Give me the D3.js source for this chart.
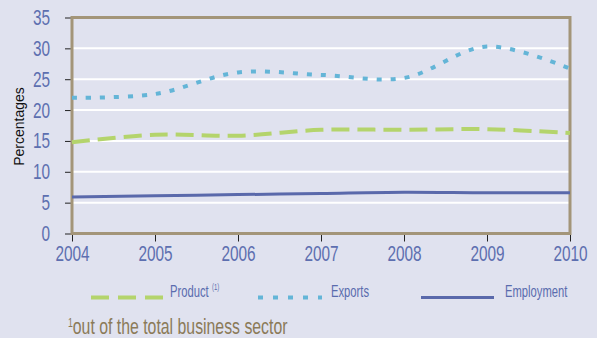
<!DOCTYPE html>
<html>
<head>
<meta charset="utf-8">
<script src="https://cdn.jsdelivr.net/npm/d3@7"></script>
<style>
  body { margin: 0; background: #e0e2ef; }
  svg { display: block; }
  text { font-family: "Liberation Sans", Arial, sans-serif; }
  .tick text { fill: #5d6fb0; }
</style>
</head>
<body>
<svg width="597" height="338"></svg>
<script>
// data
var years = [2004, 2005, 2006, 2007, 2008, 2009, 2010];
var product = [14.8, 16.0, 15.85, 16.8, 16.8, 16.9, 16.3];
var exportsShare = [22.0, 22.6, 26.1, 25.7, 25.2, 30.3, 26.7];
var employment = [5.9, 6.1, 6.3, 6.5, 6.7, 6.6, 6.6];
var yTicks = [0, 5, 10, 15, 20, 25, 30, 35];

// the original uses a condensed face; squeeze regular text horizontally
var squeeze = 0.7;

var svg = d3.select("svg"),
    margin = {top: 17.5, right: 27, bottom: 104.5, left: 72},
    width = svg.attr("width") - margin.left - margin.right,
    height = svg.attr("height") - margin.top - margin.bottom;

var g = svg.append("g").attr("transform", "translate(" + margin.left + "," + margin.top + ")");

var x = d3.scaleLinear().domain([2004, 2010]).range([0, width]),
    y = d3.scaleLinear().domain([0, 35]).range([height, 0]);

// white gridlines
g.selectAll(".grid")
  .data(yTicks.filter(function(d) { return d > 0 && d < 35; }))
  .enter().append("line")
    .attr("x1", 0).attr("x2", width)
    .attr("y1", function(d) { return y(d); })
    .attr("y2", function(d) { return y(d); })
    .attr("stroke", "#fff")
    .attr("stroke-width", 2);

// y axis
var yAxis = g.append("g")
  .call(d3.axisLeft(y).tickValues(yTicks).tickSize(7).tickPadding(15));
yAxis.select(".domain").remove();
yAxis.selectAll(".tick line").attr("stroke", "#222");
yAxis.selectAll(".tick text")
  .style("font-size", "22px")
  .attr("x", -22 / squeeze)
  .attr("transform", "scale(" + squeeze + ",1)");

// x axis
var xAxis = g.append("g")
  .attr("transform", "translate(0," + (height + 1) + ")")
  .call(d3.axisBottom(x).tickValues(years).tickFormat(d3.format("d")).tickSize(7).tickPadding(4));
xAxis.select(".domain").remove();
xAxis.selectAll(".tick line").attr("stroke", "#222");
xAxis.selectAll(".tick text")
  .style("font-size", "22px")
  .attr("transform", "scale(" + squeeze + ",1)");

// frame
g.append("rect")
  .attr("width", width).attr("height", height)
  .attr("fill", "none")
  .attr("stroke", "#a39579")
  .attr("stroke-width", 3);

// y label
svg.append("text")
  .attr("transform", "translate(24," + (margin.top + height / 2 + 1) + ") rotate(-90)")
  .attr("text-anchor", "middle")
  .style("font-size", "14px")
  .attr("fill", "#111")
  .text("Percentages");

var line = d3.line()
  .x(function(d, i) { return x(years[i]); })
  .y(function(d) { return y(d); })
  .curve(d3.curveCatmullRom);

var series = [
  {name: "Product", values: product, color: "#b4d46c", width: 4, dash: "18,8"},
  {name: "Exports", values: exportsShare, color: "#64b5d7", width: 4, dash: "5,9"},
  {name: "Employment", values: employment, color: "#5a69ab", width: 3, dash: null}
];

g.selectAll(".series")
  .data(series)
  .enter().append("path")
    .attr("class", "series")
    .attr("fill", "none")
    .attr("d", function(d) { return line(d.values); })
    .attr("stroke", function(d) { return d.color; })
    .attr("stroke-width", function(d) { return d.width; })
    .attr("stroke-dasharray", function(d) { return d.dash; });

// legend
var legendX = [[91, 163, 170], [258, 322, 331], [421, 494, 505]];
var legend = svg.selectAll(".legend")
  .data(series)
  .enter().append("g")
    .attr("class", "legend");

legend.append("line")
  .attr("x1", function(d, i) { return legendX[i][0]; })
  .attr("x2", function(d, i) { return legendX[i][1]; })
  .attr("y1", 297.5).attr("y2", 297.5)
  .attr("stroke", function(d) { return d.color; })
  .attr("stroke-width", function(d) { return d.name == "Employment" ? 3 : 4; })
  .attr("stroke-dasharray", function(d) { return d.name == "Product" ? "18,9" : d.name == "Exports" ? "5,10" : null; });

var lt = legend.append("text")
  .attr("transform", function(d, i) { return "translate(" + legendX[i][2] + ",297) scale(0.66,1)"; })
  .style("font-size", "17px")
  .attr("fill", "#5a6cae")
  .text(function(d) { return d.name; });

lt.filter(function(d) { return d.name == "Product"; })
  .append("tspan")
    .attr("dx", 5).attr("dy", -7)
    .style("font-size", "9px")
    .text("(1)");

// footnote
var fn = svg.append("text")
  .attr("transform", "translate(68,334) scale(0.72,1)")
  .style("font-size", "22px")
  .attr("fill", "#8b7a58");
fn.append("tspan").attr("dy", -7).style("font-size", "12px").text("1");
fn.append("tspan").attr("dy", 7).text("out of the total business sector");
</script>
</body>
</html>
